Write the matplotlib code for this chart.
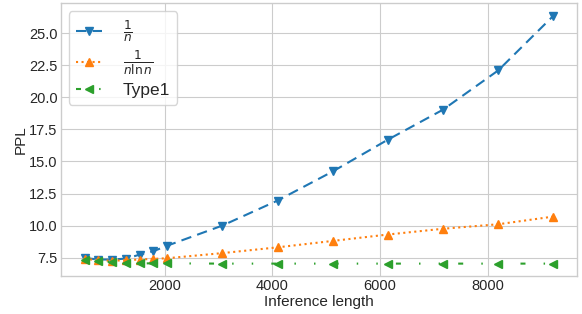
import matplotlib
matplotlib.use("Agg")
import matplotlib.pyplot as plt

plt.style.use("seaborn-v0_8-whitegrid")
plt.rcParams['font.family'] = ['Liberation Sans', 'DejaVu Sans']
plt.rcParams['mathtext.fontset'] = 'dejavusans'

lengths = [512, 768, 1024, 1280, 1536, 1792, 2048, 3072, 4096, 5120, 6144, 7168, 8192, 9216]
ppl_inv_n = [7.47, 7.35, 7.35, 7.42, 7.73, 8.0, 8.43, 10.0, 11.95, 14.22, 16.7, 19.04, 22.1, 26.36]
ppl_inv_nlogn = [7.4, 7.3, 7.25, 7.3, 7.35, 7.4, 7.45, 7.85, 8.3, 8.8, 9.3, 9.75, 10.1, 10.7]
ppl_type1 = [7.3, 7.25, 7.15, 7.1, 7.05, 7.05, 7.05, 7.03, 7.03, 7.03, 7.03, 7.03, 7.03, 7.03]
labels = [r'$\frac{1}{n}$', r'$\frac{1}{n\ln n}$', 'Type1']

fig = plt.figure(figsize=(5.82, 3.14), dpi=100)
ax = fig.add_axes([0.105, 0.121, 0.886, 0.868])

ax.plot(lengths, ppl_inv_n, color='#1f77b4', linestyle=(0, (5, 3)), marker='v',
        markersize=6, linewidth=1.5, label=labels[0])
ax.plot(lengths, ppl_inv_nlogn, color='#ff7f0e', linestyle=':', marker='^',
        markersize=6, linewidth=1.5, label=labels[1])
ax.plot(lengths, ppl_type1, color='#2ca02c', linestyle=(0, (2.4, 8.7, 0.7, 8.7, 0.7, 8.7)),
        marker='<', markersize=6, linewidth=1.5, label=labels[2])

ax.set_xlabel('Inference length', fontsize=11, labelpad=1)
ax.set_ylabel('PPL', fontsize=11, labelpad=1)
ax.tick_params(labelsize=10.5, length=0, pad=2.5)
ax.set_xticks([2000, 4000, 6000, 8000])
ax.set_yticks([7.5, 10.0, 12.5, 15.0, 17.5, 20.0, 22.5, 25.0])

leg = ax.legend(loc='upper left', fontsize=12.5, frameon=True, handlelength=1.5,
                borderaxespad=0.45, labelspacing=0.3, handletextpad=1.2,
                borderpad=0.4)
leg.get_frame().set_edgecolor('#cccccc')

fig.savefig('out.png', dpi=100)
